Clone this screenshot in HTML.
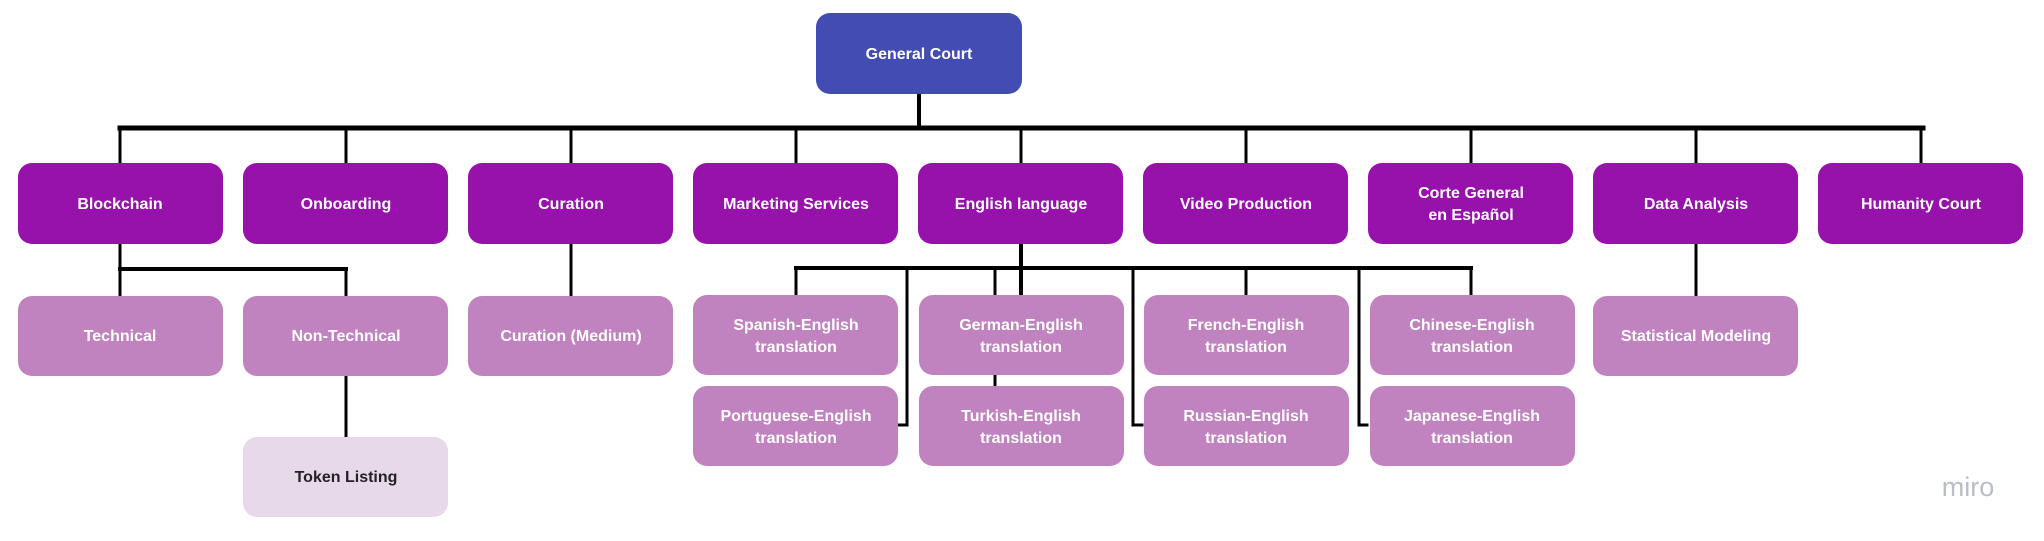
<!DOCTYPE html>
<html><head><meta charset="utf-8"><style>
html,body{margin:0;padding:0;background:#fff;}
svg{display:block;}
text{font-family:"Liberation Sans",sans-serif;font-weight:bold;font-size:16px;fill:#fff;text-anchor:middle;}
</style></head><body>
<svg width="2044" height="541" viewBox="0 0 2044 541">
<g stroke="#000" fill="none" stroke-linecap="square">
<line x1="919" y1="94" x2="919" y2="128" stroke-width="4"/>
<line x1="120" y1="128" x2="1923" y2="128" stroke-width="5"/>
<line x1="120" y1="128" x2="120" y2="163" stroke-width="3"/>
<line x1="346" y1="128" x2="346" y2="163" stroke-width="3"/>
<line x1="571" y1="128" x2="571" y2="163" stroke-width="3"/>
<line x1="796" y1="128" x2="796" y2="163" stroke-width="3"/>
<line x1="1021" y1="128" x2="1021" y2="163" stroke-width="3"/>
<line x1="1246" y1="128" x2="1246" y2="163" stroke-width="3"/>
<line x1="1471" y1="128" x2="1471" y2="163" stroke-width="3"/>
<line x1="1696" y1="128" x2="1696" y2="163" stroke-width="3"/>
<line x1="1921" y1="128" x2="1921" y2="163" stroke-width="3"/>
<!-- blockchain -->
<line x1="120" y1="244" x2="120" y2="296" stroke-width="3"/>
<line x1="120" y1="269" x2="346" y2="269" stroke-width="4"/>
<line x1="346" y1="269" x2="346" y2="296" stroke-width="3"/>
<line x1="346" y1="377" x2="346" y2="437" stroke-width="3"/>
<!-- curation -->
<line x1="571" y1="244" x2="571" y2="296" stroke-width="3"/>
<!-- english -->
<line x1="1021" y1="244" x2="1021" y2="296" stroke-width="4"/>
<line x1="796" y1="268" x2="1471" y2="268" stroke-width="4"/>
<line x1="796" y1="268" x2="796" y2="296" stroke-width="3"/>
<line x1="995" y1="268" x2="995" y2="296" stroke-width="3"/>
<line x1="995" y1="375" x2="995" y2="387" stroke-width="3"/>
<line x1="1246" y1="268" x2="1246" y2="296" stroke-width="3"/>
<line x1="1471" y1="268" x2="1471" y2="296" stroke-width="3"/>
<polyline points="907,268 907,425 899,425" stroke-width="3"/>
<polyline points="1133,268 1133,425 1142,425" stroke-width="3"/>
<polyline points="1359,268 1359,425 1367,425" stroke-width="3"/>
<!-- data analysis -->
<line x1="1696" y1="244" x2="1696" y2="296" stroke-width="3"/>
</g>
<rect x="816" y="13" width="206" height="81" rx="14" fill="#434cb3"/>
<text x="919" y="59">General Court</text>
<g fill="#9612ab">
<rect x="18" y="163" width="205" height="81" rx="14"/>
<rect x="243" y="163" width="205" height="81" rx="14"/>
<rect x="468" y="163" width="205" height="81" rx="14"/>
<rect x="693" y="163" width="205" height="81" rx="14"/>
<rect x="918" y="163" width="205" height="81" rx="14"/>
<rect x="1143" y="163" width="205" height="81" rx="14"/>
<rect x="1368" y="163" width="205" height="81" rx="14"/>
<rect x="1593" y="163" width="205" height="81" rx="14"/>
<rect x="1818" y="163" width="205" height="81" rx="14"/>
</g>
<text x="120" y="209">Blockchain</text>
<text x="346" y="209">Onboarding</text>
<text x="571" y="209">Curation</text>
<text x="796" y="209">Marketing Services</text>
<text x="1021" y="209">English language</text>
<text x="1246" y="209">Video Production</text>
<text x="1471" y="198">Corte General</text>
<text x="1471" y="220">en Español</text>
<text x="1696" y="209">Data Analysis</text>
<text x="1921" y="209">Humanity Court</text>
<g fill="#c182c0">
<rect x="18" y="296" width="205" height="80" rx="14"/>
<rect x="243" y="296" width="205" height="80" rx="14"/>
<rect x="468" y="296" width="205" height="80" rx="14"/>
<rect x="693" y="295" width="205" height="80" rx="14"/>
<rect x="919" y="295" width="205" height="80" rx="14"/>
<rect x="1144" y="295" width="205" height="80" rx="14"/>
<rect x="1370" y="295" width="205" height="80" rx="14"/>
<rect x="1593" y="296" width="205" height="80" rx="14"/>
<rect x="693" y="386" width="205" height="80" rx="14"/>
<rect x="919" y="386" width="205" height="80" rx="14"/>
<rect x="1144" y="386" width="205" height="80" rx="14"/>
<rect x="1370" y="386" width="205" height="80" rx="14"/>
</g>
<rect x="243" y="437" width="205" height="80" rx="14" fill="#e8d9ea"/>
<text x="120" y="341">Technical</text>
<text x="346" y="341">Non-Technical</text>
<text x="571" y="341">Curation (Medium)</text>
<text x="796" y="330">Spanish-English</text><text x="796" y="352">translation</text>
<text x="1021" y="330">German-English</text><text x="1021" y="352">translation</text>
<text x="1246" y="330">French-English</text><text x="1246" y="352">translation</text>
<text x="1472" y="330">Chinese-English</text><text x="1472" y="352">translation</text>
<text x="1696" y="341">Statistical Modeling</text>
<text x="796" y="421">Portuguese-English</text><text x="796" y="443">translation</text>
<text x="1021" y="421">Turkish-English</text><text x="1021" y="443">translation</text>
<text x="1246" y="421">Russian-English</text><text x="1246" y="443">translation</text>
<text x="1472" y="421">Japanese-English</text><text x="1472" y="443">translation</text>
<text x="346" y="482" style="fill:#222">Token Listing</text>
<text x="1968" y="496" style="fill:#b9bdc9;font-size:27px;font-weight:normal">miro</text>
</svg>
</body></html>
